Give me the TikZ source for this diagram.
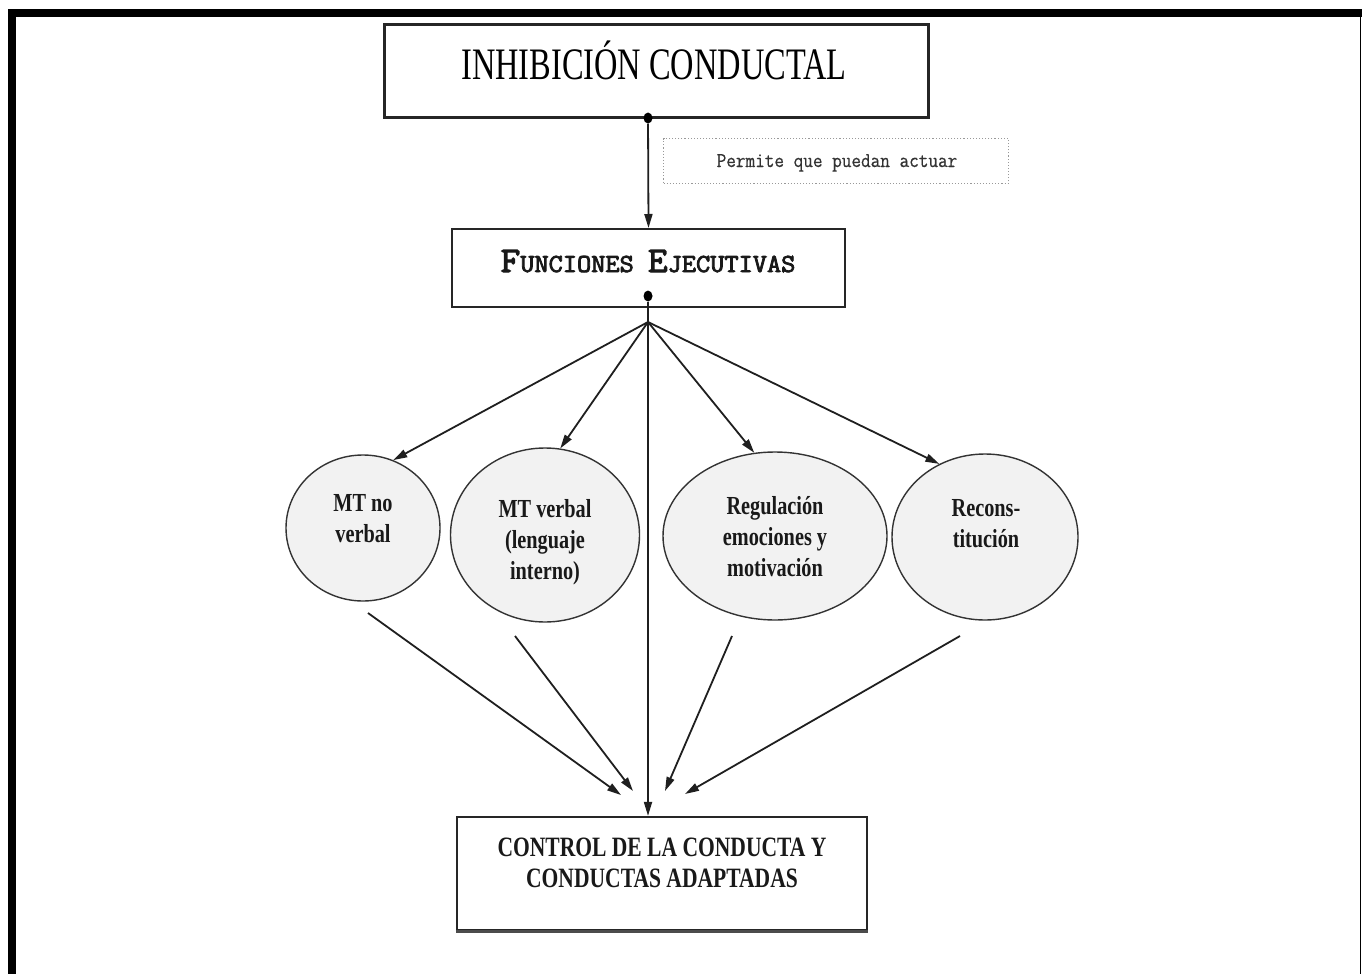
\documentclass[tikz,border=0pt]{standalone}
\usepackage{fontspec}
\usetikzlibrary{shapes.geometric,arrows.meta}
\newfontfamily\topfont{Liberation Serif}[FakeStretch=0.72]
\newfontfamily\condserif{Liberation Serif}[FakeStretch=0.78]
\newfontfamily\ctlfont{Liberation Serif}[FakeStretch=0.77]
\newfontfamily\fecaps{Latin Modern Mono}[FakeStretch=1.06, FakeBold=3.2]
\newfontfamily\permfont{Latin Modern Mono}[FakeStretch=0.89, FakeBold=0.6]
\newcommand\bigsz{\fontsize{36}{40}\selectfont}
\newcommand\smallsz{\fontsize{26}{30}\selectfont}
\tikzset{
  arr/.style={-{Triangle[length=14pt,width=8pt]}, line width=1.8pt, draw=black!88},
  ell/.style={ellipse, draw=black!80, line width=1.4pt, fill=black!5, inner sep=0pt},
  elltext/.style={font={\condserif\bfseries\fontsize{26}{31}\selectfont}, align=center, inner sep=0pt, text=black!90},
  dotnode/.style={ellipse, fill=black, minimum width=9pt, minimum height=11pt, inner sep=0pt},
  boxnode/.style={draw=black!85, inner sep=0pt}
}
\begin{document}
\begin{tikzpicture}[x=1pt,y=-1pt]
\useasboundingbox (0,0) rectangle (1362,974);
% frame
\fill[black] (8,9) rectangle (1362,17.5);
\fill[black] (8,9) rectangle (16,974);
\draw[line width=1.5pt] (1360.5,17) -- (1360.5,974);

% top box
\node[boxnode, line width=3pt, minimum width=544pt, minimum height=92pt] (inh) at (656,71) {};
\node[anchor=base, inner sep=0pt, font={\topfont\fontsize{45}{50}\selectfont}] (inhtext) at (654,80) {INHIBICIÓN CONDUCTAL};
\node[dotnode] (d1) at (648,118) {};

% permite box
\node[draw=black!40, dotted, line width=1.1pt, minimum width=345pt, minimum height=45pt, inner sep=0pt] (perm) at (836,161) {};
\node[anchor=base, inner sep=0pt, font={\permfont\fontsize{21}{24}\selectfont}, text=black!80] (permtext) at (837,167) {Permite que puedan actuar};

% FE box
\node[boxnode, line width=2pt, minimum width=393pt, minimum height=78pt] (fe) at (648.5,268) {};
\node[anchor=base, inner sep=0pt, font={\fecaps}, text=black!90] (fetext) at (648,272) {\bigsz F\smallsz UNCIONES \bigsz E\smallsz JECUTIVAS};
\node[dotnode] (d2) at (648,296) {};

\draw[arr] (d1) -- (fe.north);

% hub
\coordinate (hub) at (648,322);

% ellipses
\node[ell, minimum width=154pt, minimum height=146pt] (e1) at (363,528) {};
\node[ell, minimum width=189pt, minimum height=174pt] (e2) at (545,535) {};
\node[ell, minimum width=224pt, minimum height=168pt] (e3) at (775,536) {};
\node[ell, minimum width=186pt, minimum height=166pt] (e4) at (985,537) {};
\node[elltext] (t1) at (363,519) {MT no\\verbal};
\node[elltext] (t2) at (545,542) {MT verbal\\(lenguaje\\interno)};
\node[elltext] (t3) at (775,537) {Regulación\\emociones y\\motivación};
\node[elltext] (t4) at (986,524) {Recons-\\titución};

% bottom box
\node[boxnode, line width=2.2pt, minimum width=410pt, minimum height=113pt] (ctl) at (662,873.5) {};
\draw[line width=3pt, black!70] (ctl.south west) -- (ctl.south east);
\node[inner sep=0pt, align=center, font={\ctlfont\bfseries\fontsize{28}{31}\selectfont}, text=black!90] (ctltext) at (662,863) {CONTROL DE LA CONDUCTA Y\\CONDUCTAS ADAPTADAS};

% connectors from FE
\draw[line width=1.8pt, black!88] (d2) -- (hub);
\draw[arr] (hub) -- (ctl.north -| d2);
\draw[arr] (hub) -- (e1.66);
\draw[arr] (hub) -- (e2.80);
\draw[arr] (hub) -- (e3.104);
\draw[arr] (hub) -- (e4.122);

% lower arrows
\coordinate (l1s) at (368,613); \coordinate (l1e) at (621,795);
\coordinate (l2s) at (515,636); \coordinate (l2e) at (633,791);
\coordinate (l3s) at (732,636); \coordinate (l3e) at (665,791);
\coordinate (l4s) at (960,636); \coordinate (l4e) at (685,794);
\draw[arr] (l1s) -- (l1e);
\draw[arr] (l2s) -- (l2e);
\draw[arr] (l3s) -- (l3e);
\draw[arr] (l4s) -- (l4e);
\end{tikzpicture}
\end{document}
